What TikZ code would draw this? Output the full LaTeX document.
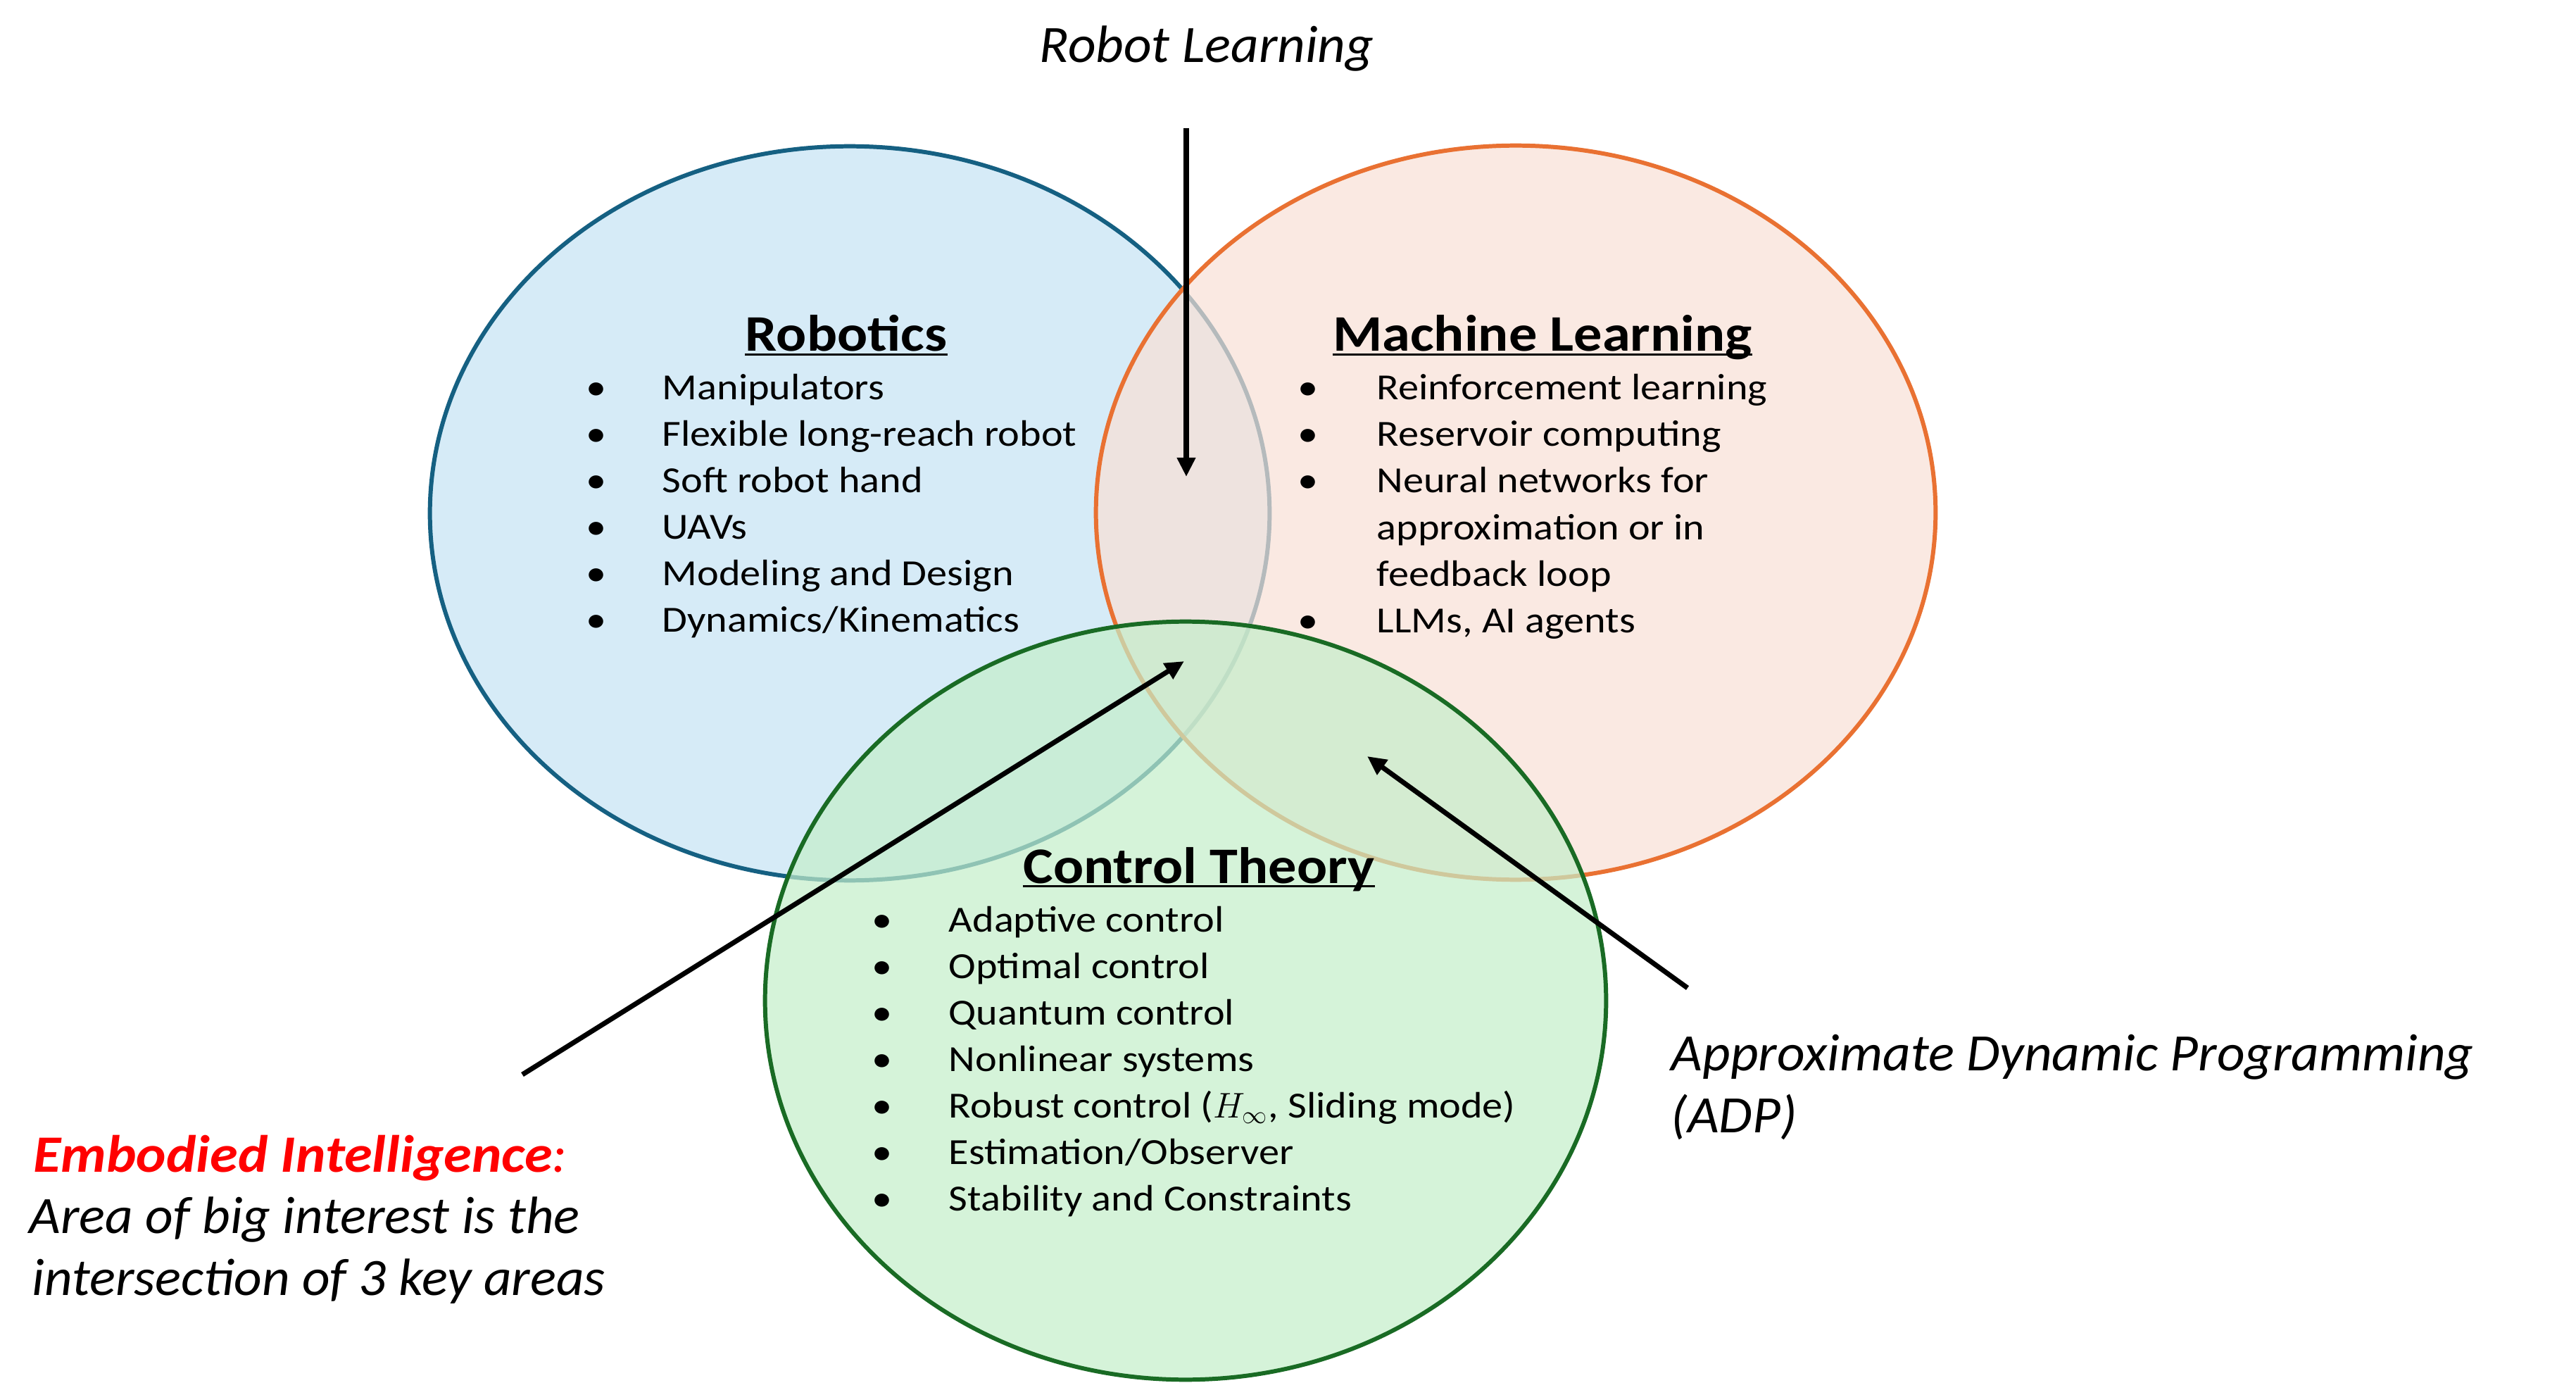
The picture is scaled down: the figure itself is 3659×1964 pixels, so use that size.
\documentclass[tikz,border=0pt]{standalone}
\usepackage{fontspec}
\setmainfont{Carlito}[
  UprightFeatures={FakeStretch=1.115},
  BoldFeatures={FakeStretch=1.105},
  ItalicFeatures={FakeStretch=1.035},
  BoldItalicFeatures={FakeStretch=1.08}]
\usetikzlibrary{shapes.geometric,arrows.meta}
\definecolor{bluefill}{RGB}{214,235,247}
\definecolor{bluedraw}{RGB}{21,96,130}
\definecolor{orfill}{RGB}{249,225,214}
\definecolor{ordraw}{RGB}{233,113,50}
\definecolor{grfill}{RGB}{196,238,202}
\definecolor{grdraw}{RGB}{25,107,36}
\definecolor{eired}{RGB}{255,0,0}
\tikzset{
  setshape/.style={ellipse, inner sep=0pt, line width=1.7pt},
  itemtext/.style={anchor=base west, inner sep=0pt, font=\fontsize{14.86pt}{18pt}\selectfont},
  bul/.style={anchor=base, inner sep=0pt, font=\fontsize{14.86pt}{18pt}\selectfont},
  head/.style={anchor=base, inner sep=0pt, font=\fontsize{20.7pt}{24pt}\selectfont\bfseries},
  lab/.style={anchor=base west, inner sep=0pt, font=\fontsize{21.2pt}{25pt}\selectfont\itshape},
  pointer/.style={line width=2pt, -{Triangle[length=0.27cm,width=0.25cm]}},
  uline/.style={line width=0.85pt}
}
\begin{document}
\begin{tikzpicture}[x=0.01cm, y=-0.01cm]
\path[use as bounding box, fill=white] (0,0) rectangle (3659,1964);

% sets
\node[setshape, draw=bluedraw, fill=bluefill, minimum width=11.92cm, minimum height=10.42cm] (rob) at (1207,729) {};
\node[setshape, draw=ordraw, fill=orfill, fill opacity=0.7, minimum width=11.92cm, minimum height=10.42cm] (ml) at (2153,728) {};
\node[setshape, draw=grdraw, fill=grfill, fill opacity=0.7, minimum width=11.94cm, minimum height=10.76cm] (ct) at (1684,1421) {};

% headings
\node[head] (hrob) at (1202,499) {Robotics};
\node[head] (hml) at (2191,499) {Machine Learning};
\node[head] (hct) at (1703,1254) {Control Theory};
\foreach \h in {hrob,hml,hct}
  \draw[uline] ([yshift=-0.045cm]\h.base west) -- ([yshift=-0.045cm]\h.base east);

% Robotics items
\foreach \t [count=\i] in {Manipulators, Flexible long-reach robot, Soft robot hand, UAVs, Modeling and Design, Dynamics/Kinematics}{
  \node[bul] (rb\i) at (847,{567.5+66*(\i-1)}) {•};
  \node[itemtext] (ri\i) at (940,{567.5+66*(\i-1)}) {\t};
}

% Machine learning items
\node[bul] (mb1) at (1858,568) {•};
\node[itemtext] (mi1) at (1955,568) {Reinforcement learning};
\node[bul] (mb2) at (1858,634) {•};
\node[itemtext] (mi2) at (1955,634) {Reservoir computing};
\node[bul] (mb3) at (1858,700) {•};
\node[itemtext] (mi3) at (1955,700) {Neural networks for};
\node[itemtext] (mi4) at (1955,766) {approximation or in};
\node[itemtext] (mi5) at (1955,832) {feedback loop};
\node[bul] (mb6) at (1858,898) {•};
\node[itemtext] (mi6) at (1955,898) {LLMs, AI agents};

% Control theory items
\foreach \t [count=\i] in {Adaptive control, Optimal control, Quantum control, Nonlinear systems, {Robust control ($H_\infty$, Sliding mode)}, Estimation/Observer, Stability and Constraints}{
  \node[bul] (cb\i) at (1253,{1323+66.1*(\i-1)}) {•};
  \node[itemtext] (ci\i) at (1347,{1323+66.1*(\i-1)}) {\t};
}

% outside labels
\node[lab] (rl) at (1476,89) {Robot Learning};
\node[lab] (adp1) at (2373,1520) {Approximate Dynamic Programming};
\node[lab] (adp2) at (2373,1608) {(ADP)};
\node[lab] (ei1) at (47,1664) {\textcolor{eired}{\textbf{Embodied Intelligence}:}};
\node[lab] (ei2) at (41,1751) {Area of big interest is the};
\node[lab] (ei3) at (45,1839) {intersection of 3 key areas};

% arrows
\coordinate (rlstart) at (1685,182);
\coordinate (rltip) at (1685,677);
\coordinate (eistart) at (742,1526);
\coordinate (eitip) at (1682,939);
\coordinate (adpstart) at (2397,1403);
\coordinate (adptip) at (1942,1074);
\draw[pointer] (rlstart) -- (rltip);
\draw[pointer] (eistart) -- (eitip);
\draw[pointer] (adpstart) -- (adptip);
\end{tikzpicture}
\end{document}
